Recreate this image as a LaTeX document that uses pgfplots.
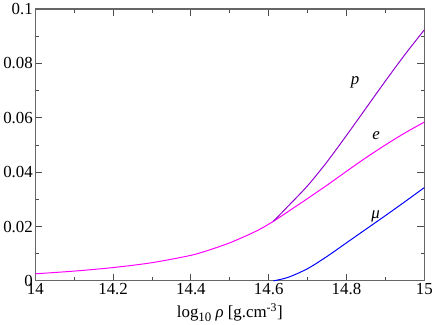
\documentclass[border=0pt]{standalone}
\usepackage{fontspec}
\setmainfont{Liberation Serif}
\usepackage{pgfplots}
\pgfplotsset{compat=1.18}
\definecolor{gmag}{RGB}{255,0,255}
\definecolor{gviol}{RGB}{148,0,211}
\definecolor{gblue}{RGB}{0,0,255}
\begin{document}
\begin{tikzpicture}
\begin{axis}[
  width=392pt, height=274pt, scale only axis,
  xmin=14, xmax=15, ymin=0, ymax=0.1,
  xtick={14,14.2,14.4,14.6,14.8,15},
  xticklabels={14,14.2,14.4,14.6,14.8,15},
  ytick={0,0.02,0.04,0.06,0.08,0.1},
  yticklabels={0,0.02,0.04,0.06,0.08,0.1},
  minor x tick num=1, minor y tick num=1,
  tick align=inside,
  major tick length=7pt, minor tick length=3.5pt,
  axis line style={black!60, line width=1.2pt},
  every tick/.style={black!70, line width=0.9pt},
  tick label style={font=\fontsize{17}{20}\selectfont},
  label style={font=\fontsize{17}{20}\selectfont},
  xticklabel style={yshift=1pt},
  yticklabel style={xshift=1pt},
  xlabel={log\raisebox{-0.45ex}{\fontsize{13}{14}\selectfont 10} \textit{ρ} [g.cm\textsuperscript{-3}]},
  xlabel style={yshift=-2pt},
  clip=false,
]
\addplot[gmag, line width=1pt, smooth] coordinates {
(14.0,0.0026) (14.1,0.0036) (14.2,0.0049) (14.3,0.0067) (14.4,0.0094)
(14.45,0.0115) (14.5,0.0140) (14.55,0.0171) (14.58,0.0192) (14.612,0.0219)
(14.65,0.0255) (14.7,0.0303) (14.75,0.0352) (14.8,0.0403) (14.85,0.0453)
(14.9,0.0500) (14.95,0.0544) (15.0,0.0584)
};
\addplot[gviol, line width=1pt, smooth] coordinates {
(14.612,0.0219) (14.65,0.0275) (14.7,0.0350) (14.75,0.0438) (14.8,0.0535)
(14.85,0.0635) (14.9,0.0735) (14.95,0.0832) (15,0.0923)
};
\addplot[gblue, line width=1pt, smooth] coordinates {
(14.612,0) (14.65,0.0013) (14.7,0.0045) (14.75,0.0090) (14.8,0.0140)
(14.85,0.0190) (14.9,0.0240) (14.95,0.0291) (15,0.0343)
};
\node[font=\fontsize{17}{20}\selectfont\itshape] at (axis cs:14.822,0.073) {p};
\node[font=\fontsize{17}{20}\selectfont\itshape] at (axis cs:14.876,0.0536) {e};
\node[font=\fontsize{17}{20}\selectfont\itshape] at (axis cs:14.875,0.0237) {μ};
\end{axis}
\end{tikzpicture}
\end{document}
